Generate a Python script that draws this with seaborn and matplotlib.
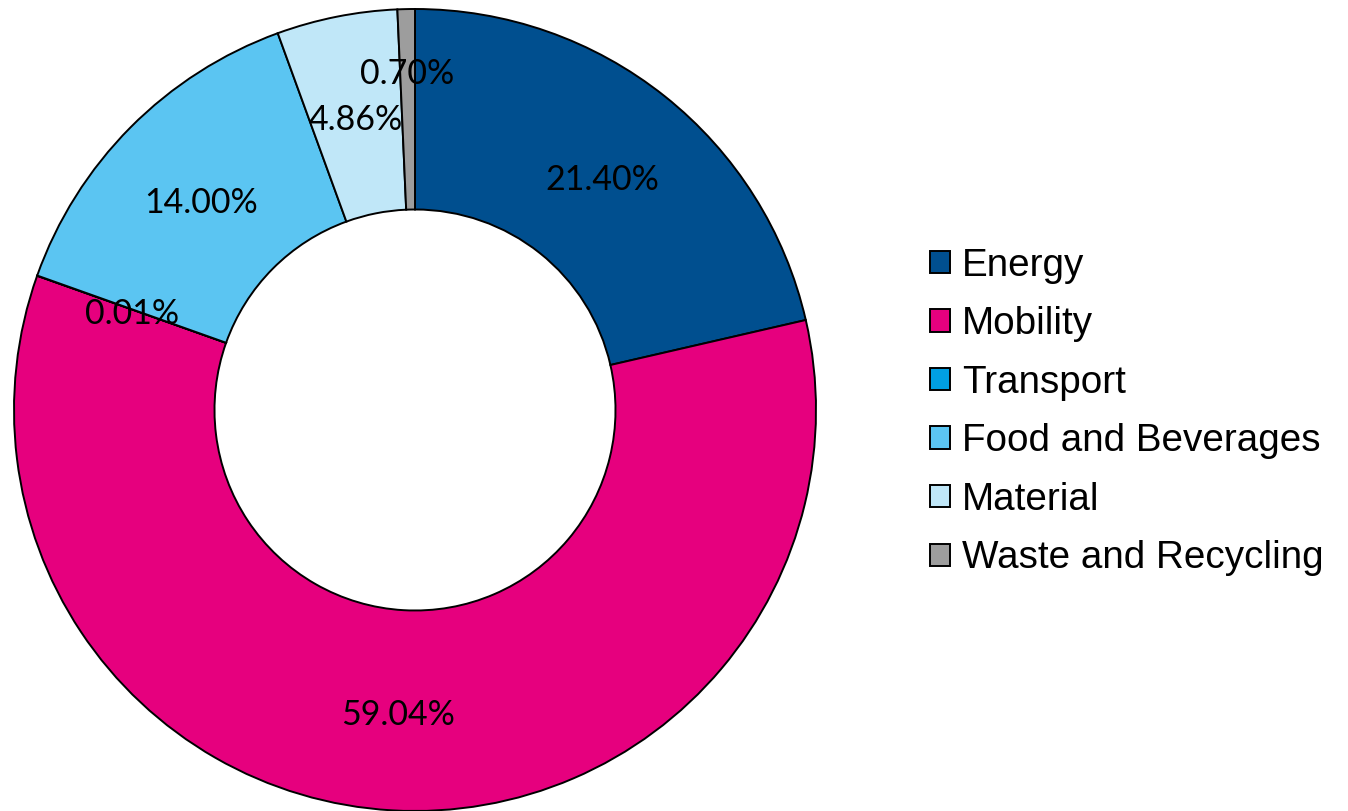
import matplotlib
matplotlib.use("Agg")
import matplotlib.pyplot as plt
import matplotlib.patches as mpatches
import numpy as np
import seaborn as sns

# Share of each sector (percent)
sectors = ["Energy", "Mobility", "Transport", "Food and Beverages", "Material", "Waste and Recycling"]
shares = [21.40, 59.04, 0.01, 14.00, 4.86, 0.70]
colors = ["#004F8F", "#E6007E", "#009FE3", "#5BC5F2", "#C0E7F8", "#9D9D9D"]

sns.set_theme(style="white")
plt.rcParams["font.family"] = ["Liberation Sans", "DejaVu Sans"]
palette = sns.color_palette(colors)

fig = plt.figure(figsize=(13.48, 8.11), dpi=100)
W, H = 1348, 811
cx, cy, r = 415, 410, 401
ax = fig.add_axes([(cx - r) / W, (H - cy - r) / H, 2 * r / W, 2 * r / H])

total = sum(shares)
wedges, texts, autotexts = ax.pie(
    shares,
    colors=palette,
    startangle=90,
    counterclock=False,
    radius=1.0,
    autopct=lambda p: f"{p * total / 100:.2f}%",
    pctdistance=0.75,
    wedgeprops=dict(width=0.5, edgecolor="black", linewidth=1.4),
    textprops=dict(fontsize=24.5, color="black", family=["Lato", "DejaVu Sans"]),
)

# Value labels sit on their baseline-centred position inside the ring
drop = 5 / r
for t in autotexts:
    x, y = t.get_position()
    t.set_position((x, y - drop))

# Push the smallest slice's label outward so it clears its neighbour
w = wedges[-1]
mid = np.deg2rad((w.theta1 + w.theta2) / 2)
autotexts[-1].set_position((0.85 * np.cos(mid), 0.85 * np.sin(mid) - drop))

ax.set_xlim(-1, 1)
ax.set_ylim(-1, 1)
ax.set_aspect("equal")
ax.axis("off")

handles = [mpatches.Patch(facecolor=c, edgecolor="black", linewidth=1.4) for c in palette]
leg = fig.legend(
    handles, sectors,
    loc="center left",
    bbox_to_anchor=(930 / W, 1 - 412 / H),
    frameon=False,
    fontsize=27.8,
    handlelength=0.52,
    handleheight=0.52,
    handletextpad=0.3,
    labelspacing=0.585,
    borderaxespad=0,
    borderpad=0,
)
for t in leg.get_texts():
    t.set_color("black")

fig.savefig("out.png", dpi=100)
